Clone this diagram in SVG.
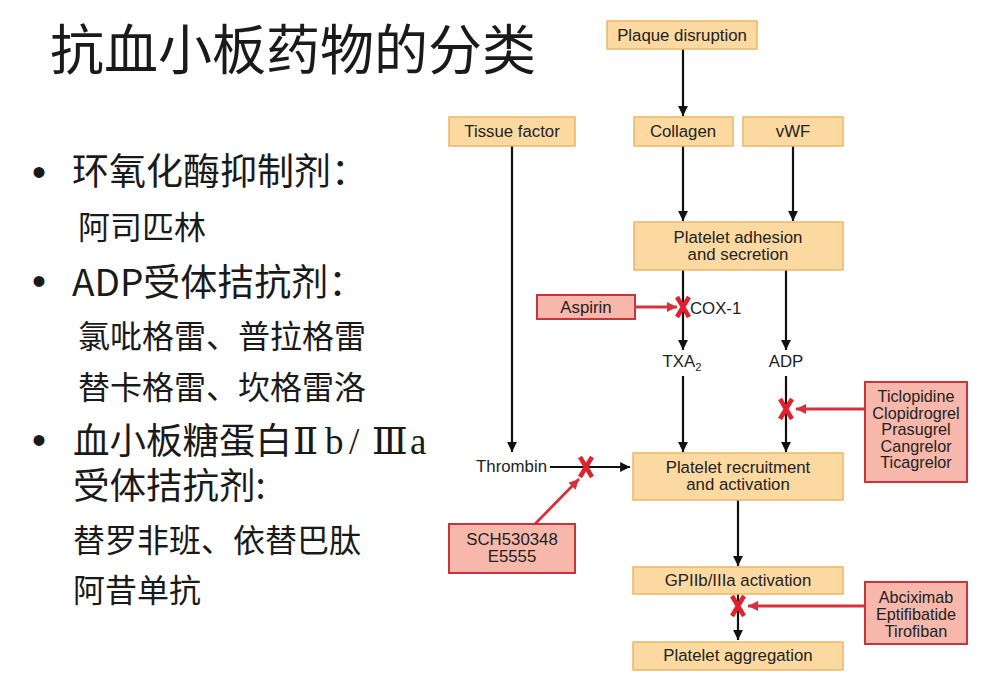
<svg xmlns="http://www.w3.org/2000/svg" width="995" height="695" viewBox="0 0 995 695">
<style>
.cjk{font-family:"Noto Sans CJK SC",sans-serif;fill:#1a1a1a}
.bul{font-family:"Liberation Sans",Arial,sans-serif;font-size:40px;fill:#1a1a1a}
.ser{font-family:"Liberation Serif","DejaVu Serif",serif;font-size:37px;fill:#1a1a1a}
.box{fill:#FCD9A0;stroke:#EBB765;stroke-width:1.5}
.rbox{fill:#F7B7AA;stroke:#C8343E;stroke-width:2}
.lbl{font-family:"Liberation Sans",Arial,sans-serif;font-size:16.8px;fill:#222;text-anchor:middle}
.rl{font-size:16.2px}
.ln{stroke:#111;stroke-width:2.2;fill:none}
.rln{stroke:#D8303C;stroke-width:2.8;fill:none}
.x{stroke:#E0222E;stroke-width:4.5;stroke-linecap:butt}
</style>
<defs>
<marker id="ah" viewBox="0 0 10 10" refX="10" refY="5" markerWidth="4.5" markerHeight="4.5" orient="auto" markerUnits="strokeWidth"><path d="M0,0 L10,5 L0,10 z" fill="#111"/></marker>
<marker id="rah" viewBox="0 0 10 10" refX="10" refY="5" markerWidth="3.6" markerHeight="3.6" orient="auto" markerUnits="strokeWidth"><path d="M0,0 L10,5 L0,10 z" fill="#D8303C"/></marker>
</defs>
<rect width="995" height="695" fill="#fff"/>

<g id="left-text">
<text class="cjk" x="50" y="70" font-size="54">抗血小板药物的分类</text>
<text class="bul" x="32" y="186">•</text>
<text class="cjk" x="72" y="185" font-size="37">环氧化酶抑制剂：</text>
<text class="cjk" x="78" y="239" font-size="32">阿司匹林</text>
<text class="bul" x="32" y="295">•</text>
<text class="cjk" x="72" y="296" font-size="37">ADP受体拮抗剂：</text>
<text class="cjk" x="78" y="348" font-size="32">氯吡格雷、普拉格雷</text>
<text class="cjk" x="78" y="399" font-size="32">替卡格雷、坎格雷洛</text>
<text class="bul" x="32" y="454">•</text>
<text class="cjk" x="73" y="454" font-size="36.5">血小板糖蛋白</text>
<text class="ser" y="454"><tspan x="293">Ⅱ</tspan><tspan x="325">b</tspan><tspan x="349">/</tspan><tspan x="372">Ⅲ</tspan><tspan x="410">a</tspan></text>
<text class="cjk" x="73" y="499" font-size="36.5">受体拮抗剂:</text>
<text class="cjk" x="73" y="552" font-size="32">替罗非班、依替巴肽</text>
<text class="cjk" x="73" y="602" font-size="32">阿昔单抗</text>
</g>

<g id="connectors">
<line class="ln" x1="683" y1="49" x2="683" y2="116" marker-end="url(#ah)"/>
<line class="ln" x1="683" y1="146" x2="683" y2="221" marker-end="url(#ah)"/>
<line class="ln" x1="793" y1="146" x2="793" y2="221" marker-end="url(#ah)"/>
<line class="ln" x1="683" y1="270" x2="683" y2="350" marker-end="url(#ah)"/>
<line class="ln" x1="786" y1="270" x2="786" y2="350" marker-end="url(#ah)"/>
<line class="ln" x1="683" y1="376" x2="683" y2="452" marker-end="url(#ah)"/>
<line class="ln" x1="786" y1="376" x2="786" y2="452" marker-end="url(#ah)"/>
<line class="ln" x1="512" y1="146" x2="512" y2="452" marker-end="url(#ah)"/>
<line class="ln" x1="550" y1="467" x2="630" y2="467" marker-end="url(#ah)"/>
<line class="ln" x1="738" y1="500" x2="738" y2="566" marker-end="url(#ah)"/>
<line class="ln" x1="738" y1="594" x2="738" y2="640" marker-end="url(#ah)"/>
<line class="rln" x1="635" y1="307" x2="677" y2="307" marker-end="url(#rah)"/>
<line class="rln" x1="864" y1="409" x2="796" y2="409" marker-end="url(#rah)"/>
<line class="rln" x1="535" y1="524" x2="579" y2="479" marker-end="url(#rah)"/>
<line class="rln" x1="864" y1="606" x2="748" y2="606" marker-end="url(#rah)"/>
<g id="x-marks">
<path class="x" d="M677,297 L689,317 M689,297 L677,317"/>
<path class="x" d="M780,399 L792,419 M792,399 L780,419"/>
<path class="x" d="M580,457 L592,477 M592,457 L580,477"/>
<path class="x" d="M732,596 L744,616 M744,596 L732,616"/>
</g>
</g>

<g id="plaque"><rect class="box" x="607" y="21" width="150" height="28"/><text class="lbl" x="682" y="41">Plaque disruption</text></g>
<g id="tissue"><rect class="box" x="449" y="117" width="126" height="29"/><text class="lbl" x="512" y="137">Tissue factor</text></g>
<g id="collagen"><rect class="box" x="634" y="117" width="99" height="29"/><text class="lbl" x="683" y="137">Collagen</text></g>
<g id="vwf"><rect class="box" x="743" y="117" width="100" height="29"/><text class="lbl" x="793" y="137">vWF</text></g>
<g id="adhesion"><rect class="box" x="634" y="222" width="209" height="48"/><text class="lbl" x="738" y="243">Platelet adhesion</text><text class="lbl" x="738" y="260">and secretion</text></g>
<g id="aspirin"><rect class="rbox" x="537" y="295" width="98" height="24"/><text class="lbl" x="586" y="313">Aspirin</text></g>
<g id="cox1"><text class="lbl" x="690" y="314" style="text-anchor:start">COX-1</text></g>
<g id="txa2"><text class="lbl" x="682" y="367">TXA<tspan font-size="11" dy="4">2</tspan></text></g>
<g id="adp"><text class="lbl" x="786" y="367">ADP</text></g>
<g id="thienos"><rect class="rbox" x="865" y="382" width="102" height="100"/>
<text class="lbl rl" x="916" y="402">Ticlopidine</text><text class="lbl rl" x="916" y="418.5">Clopidrogrel</text><text class="lbl rl" x="916" y="435">Prasugrel</text><text class="lbl rl" x="916" y="451.5">Cangrelor</text><text class="lbl rl" x="916" y="468">Ticagrelor</text></g>
<g id="thrombin"><text class="lbl" x="547" y="472" style="text-anchor:end">Thrombin</text></g>
<g id="recruitment"><rect class="box" x="633" y="453" width="210" height="47"/><text class="lbl" x="738" y="473">Platelet recruitment</text><text class="lbl" x="738" y="490">and activation</text></g>
<g id="sch"><rect class="rbox" x="449" y="524" width="126" height="49"/><text class="lbl" x="512" y="545">SCH530348</text><text class="lbl" x="512" y="562">E5555</text></g>
<g id="gp"><rect class="box" x="633" y="567" width="210" height="27"/><text class="lbl" x="738" y="586">GPIIb/IIIa activation</text></g>
<g id="gpi"><rect class="rbox" x="865" y="582" width="102" height="62"/><text class="lbl rl" x="916" y="603">Abciximab</text><text class="lbl rl" x="916" y="620">Eptifibatide</text><text class="lbl rl" x="916" y="637">Tirofiban</text></g>
<g id="aggregation"><rect class="box" x="633" y="642" width="210" height="28"/><text class="lbl" x="738" y="661">Platelet aggregation</text></g>
</svg>
